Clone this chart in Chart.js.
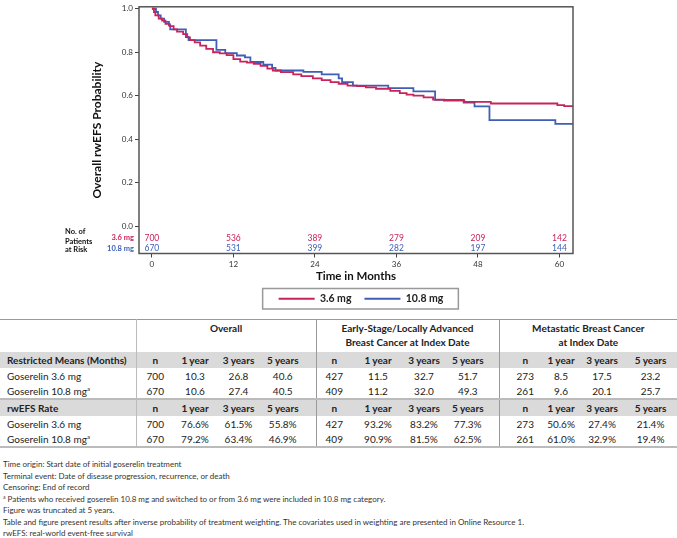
<!DOCTYPE html>
<html lang="en">
<head>
<meta charset="UTF-8">
<title>rwEFS by goserelin dose</title>
<script src="https://cdn.jsdelivr.net/npm/chart.js"></script>
<style>
  body { margin: 0; background: #fff; font-family: Lato, sans-serif; color: #222; }
  #wrap { position: relative; width: 677px; height: 538px; overflow: hidden; }
  #km { position: absolute; left: 0; top: 0; }
  #tbl { position: absolute; left: 0; top: 319px; width: 677px; border-collapse: collapse; table-layout: fixed; font-size: 10px; }
  #tbl td { padding: 0; text-align: center; white-space: nowrap; line-height: 12px; }
  #tbl td.lab { text-align: left; padding-left: 7px; }
  #tbl tr.head td { height: 30px; font-weight: bold; border-top: 1px solid #999; vertical-align: top; padding-top: 2px; line-height: 13.5px; }
  #tbl tr.sub td { height: 16px; font-weight: bold; background: #dadada; }
  #tbl tr.row td { height: 15px; }
  #tbl tr.sep td { border-bottom: 2px solid #bbb; }
  #tbl tr.last td { border-bottom: 2px solid #bbb; }
  #tbl td.c0 { border-right: 1px solid #bbb; }
  #tbl td.g { border-right: 1px solid #999; }
  #tbl sup { font-size: 6px; line-height: 0; vertical-align: 4px; }
  #notes { position: absolute; left: 3px; top: 459px; font-size: 8px; line-height: 11.5px; color: #333; }
  #notes sup { font-size: 5px; line-height: 0; vertical-align: 3px; }
</style>
</head>
<body>
<div id="wrap">
  <canvas id="km" width="677" height="317"></canvas>
  <table id="tbl"></table>
  <div id="notes"></div>
</div>
<script>
// Kaplan-Meier steps (month, survival)
const t36 = [0, 0.3, 0.5, 1.0, 1.5, 2.0, 2.6, 3.2, 3.7, 4.6, 5.2, 5.6, 6.3, 7.1, 8.0, 9.0, 10.0, 11.0, 12.0, 13.0, 14.0, 15.0, 16.0, 17.0, 17.8, 19.0, 20.8, 22.0, 23.7, 25.0, 26.3, 27.5, 28.8, 30.2, 31.5, 33.0, 35.1, 36.5, 37.5, 38.5, 40.0, 41.4, 43.0, 46.0, 49.9, 59.7, 60.7, 62];
const s36 = [1.0, 0.985, 0.97, 0.955, 0.945, 0.93, 0.92, 0.905, 0.895, 0.883, 0.868, 0.856, 0.845, 0.83, 0.815, 0.80, 0.795, 0.787, 0.768, 0.757, 0.752, 0.746, 0.737, 0.725, 0.716, 0.708, 0.698, 0.69, 0.68, 0.672, 0.662, 0.655, 0.646, 0.644, 0.638, 0.632, 0.622, 0.612, 0.605, 0.60, 0.592, 0.582, 0.578, 0.572, 0.564, 0.557, 0.552, 0.552];
const t108 = [0, 0.6, 0.9, 1.3, 1.8, 2.5, 2.7, 5.0, 5.4, 9.5, 10.8, 12.5, 13.7, 14.5, 16.4, 17.7, 18.2, 22.3, 25.0, 27.5, 28.0, 29.6, 34.8, 38.5, 41.7, 45.9, 47.5, 49.7, 59.4, 62];
const s108 = [1.0, 0.985, 0.97, 0.955, 0.94, 0.925, 0.905, 0.87, 0.856, 0.811, 0.796, 0.785, 0.776, 0.755, 0.743, 0.728, 0.716, 0.71, 0.698, 0.68, 0.662, 0.646, 0.635, 0.62, 0.581, 0.568, 0.551, 0.488, 0.47, 0.47];

const seriesNames = ['3.6 mg', '10.8 mg'];
const riskTimes = [0, 12, 24, 36, 48, 60];
const risk36 = [700, 536, 389, 279, 209, 142];
const risk108 = [670, 531, 399, 282, 197, 144];
const xTicks = [0, 12, 24, 36, 48, 60];
const yTicks = [0, 0.2, 0.4, 0.6, 0.8, 1.0];

// table
const groupHeads = ['Overall', 'Early-Stage/Locally Advanced\nBreast Cancer at Index Date', 'Metastatic Breast Cancer\nat Index Date'];
const colHeads = ['n', '1 year', '3 years', '5 years'];
const sectionHeads = ['Restricted Means (Months)', 'rwEFS Rate'];
const rowLabels = ['Goserelin 3.6 mg', 'Goserelin 10.8 mg'];
const meansRows = [
  ['700', '10.3', '26.8', '40.6', '427', '11.5', '32.7', '51.7', '273', '8.5', '17.5', '23.2'],
  ['670', '10.6', '27.4', '40.5', '409', '11.2', '32.0', '49.3', '261', '9.6', '20.1', '25.7']
];
const rateRows = [
  ['700', '76.6%', '61.5%', '55.8%', '427', '93.2%', '83.2%', '77.3%', '273', '50.6%', '27.4%', '21.4%'],
  ['670', '79.2%', '63.4%', '46.9%', '409', '90.9%', '81.5%', '62.5%', '261', '61.0%', '32.9%', '19.4%']
];
const notes = [
  'Time origin: Start date of initial goserelin treatment',
  'Terminal event: Date of disease progression, recurrence, or death',
  'Censoring: End of record',
  '<sup>a</sup> Patients who received goserelin 10.8 mg and switched to or from 3.6 mg were included in 10.8 mg category.',
  'Figure was truncated at 5 years.',
  'Table and figure present results after inverse probability of treatment weighting. The covariates used in weighting are presented in Online Resource 1.',
  'rwEFS: real-world event-free survival'
];

const RED = '#c8235a';
const BLUE = '#3d5fb6';

const kmExtras = {
  id: 'kmExtras',
  afterUpdate(chart) {
    // nudge the legend a little right, as in the original
    const lg = chart.legend;
    lg.left += 5;
    lg.right += 5;
    (lg.legendHitBoxes || []).forEach(h => { h.left += 5; });
  },
  afterDatasetsDraw(chart) {
    const { ctx, chartArea: a, scales: { x, y } } = chart;
    ctx.save();
    ctx.strokeStyle = '#555';
    ctx.lineWidth = 1.5;
    ctx.strokeRect(a.left, a.top, a.right - a.left, a.bottom - a.top);

    // numbers at risk, inside the frame under 0.0
    ctx.font = '8.5px Lato';
    ctx.textAlign = 'center';
    ctx.textBaseline = 'middle';
    const y36 = y.getPixelForValue(-0.054);
    const y108 = y.getPixelForValue(-0.104);
    riskTimes.forEach((t, i) => {
      const px = x.getPixelForValue(t);
      ctx.fillStyle = RED;
      ctx.fillText(risk36[i], px, y36);
      ctx.fillStyle = BLUE;
      ctx.fillText(risk108[i], px, y108);
    });
    ctx.font = 'bold 7.5px Lato';
    ctx.textAlign = 'right';
    ctx.fillStyle = RED;
    ctx.fillText(seriesNames[0], a.left - 5, y36);
    ctx.fillStyle = BLUE;
    ctx.fillText(seriesNames[1], a.left - 5, y108);
    ctx.textAlign = 'left';
    ctx.fillStyle = '#111';
    ctx.fillText('No. of', 65, y36 - 6);
    ctx.fillText('Patients', 65, y36 + 4);
    ctx.fillText('at Risk', 65, y108 + 1);
    ctx.restore();
  },
  afterDraw(chart) {
    const hb = chart.legend.legendHitBoxes;
    if (!hb || !hb.length) return;
    const l = Math.min(...hb.map(h => h.left)) - 16;
    const r = Math.max(...hb.map(h => h.left + h.width)) + 15;
    const t = Math.min(...hb.map(h => h.top)) - 5;
    const b = Math.max(...hb.map(h => h.top + h.height)) + 5;
    const ctx = chart.ctx;
    ctx.save();
    ctx.strokeStyle = '#999';
    ctx.lineWidth = 1.5;
    ctx.strokeRect(l, t, r - l, b - t);
    ctx.restore();
  }
};

Chart.defaults.font.family = 'Lato';

new Chart(document.getElementById('km'), {
  type: 'line',
  data: {
    datasets: [
      { label: seriesNames[0], data: t36.map((t, i) => ({ x: t, y: s36[i] })), borderColor: RED, borderWidth: 1.8, stepped: 'before', pointRadius: 0, fill: false },
      { label: seriesNames[1], data: t108.map((t, i) => ({ x: t, y: s108[i] })), borderColor: BLUE, borderWidth: 1.8, stepped: 'before', pointRadius: 0, fill: false }
    ]
  },
  options: {
    responsive: false,
    animation: false,
    layout: { padding: { left: 0, right: 104, top: 1, bottom: 3 } },
    plugins: {
      tooltip: { enabled: false },
      legend: {
        position: 'bottom',
        fullSize: false,
        labels: {
          usePointStyle: true,
          pointStyle: 'line',
          pointStyleWidth: 36,
          font: { size: 10.5, weight: 'bold' },
          color: '#222',
          padding: 13
        }
      }
    },
    scales: {
      x: {
        type: 'linear',
        min: -1.9,
        max: 62,
        afterBuildTicks: s => { s.ticks = xTicks.map(v => ({ value: v })); },
        afterFit: s => { s.height = 27; },
        grid: { drawOnChartArea: false, tickLength: 4, color: '#444' },
        border: { display: false },
        ticks: { font: { size: 8 }, color: '#333', padding: 2, maxRotation: 0 },
        title: { display: true, text: 'Time in Months', font: { size: 11.5, weight: 'bold' }, color: '#111', padding: { top: 0, bottom: -3 } }
      },
      y: {
        min: -0.126,
        max: 1.009,
        afterBuildTicks: s => { s.ticks = yTicks.map(v => ({ value: v })); },
        afterFit: s => { s.width = 139; },
        grid: { drawOnChartArea: false, tickLength: 4, color: '#444' },
        border: { display: false },
        ticks: { font: { size: 8 }, color: '#333', padding: 2, callback: v => v.toFixed(1) },
        title: { display: true, text: 'Overall rwEFS Probability', font: { size: 12, weight: 'bold' }, color: '#111', padding: { top: 90, bottom: 0 } }
      }
    }
  },
  plugins: [kmExtras]
});

// table under the plot
const colW = [136, 38, 42, 45, 55, 36, 50, 44, 53, 43, 38, 44, 53];
const shift = [0, 0, 0, -5.5, 0, 1, 0, -4.5, 4.5, 0, 0, 0];
function cellPad(j) {
  const s = shift[j];
  return s > 0 ? 'padding-left:' + (2 * s) + 'px' : s < 0 ? 'padding-right:' + (-2 * s) + 'px' : '';
}
function cls(j) {
  return (j === 3 || j === 7) ? 'g' : '';
}
let html = '<colgroup>' + colW.map(w => '<col style="width:' + w + 'px">').join('') + '</colgroup>';
html += '<tr class="head"><td class="c0"></td>' + groupHeads.map((g, k) =>
  '<td colspan="4"' + (k < 2 ? ' class="g"' : '') + '>' + g.replace('\n', '<br>') + '</td>').join('') + '</tr>';
[meansRows, rateRows].forEach((rows, si) => {
  html += '<tr class="sub"><td class="lab c0">' + sectionHeads[si] + '</td>' +
    [0, 1, 2].map(() => colHeads).flat().map((h, j) => '<td class="' + cls(j) + '" style="' + cellPad(j) + '">' + h + '</td>').join('') + '</tr>';
  rows.forEach((r, ri) => {
    const rc = ri === 1 ? (si === 0 ? 'row sep' : 'row last') : 'row';
    const lab = rowLabels[ri] + (ri === 1 ? '<sup>a</sup>' : '');
    html += '<tr class="' + rc + '"><td class="lab c0">' + lab + '</td>' +
      r.map((v, j) => '<td class="' + cls(j) + '" style="' + cellPad(j) + '">' + v + '</td>').join('') + '</tr>';
  });
});
document.getElementById('tbl').innerHTML = html;
document.getElementById('notes').innerHTML = notes.join('<br>');
</script>
</body>
</html>
